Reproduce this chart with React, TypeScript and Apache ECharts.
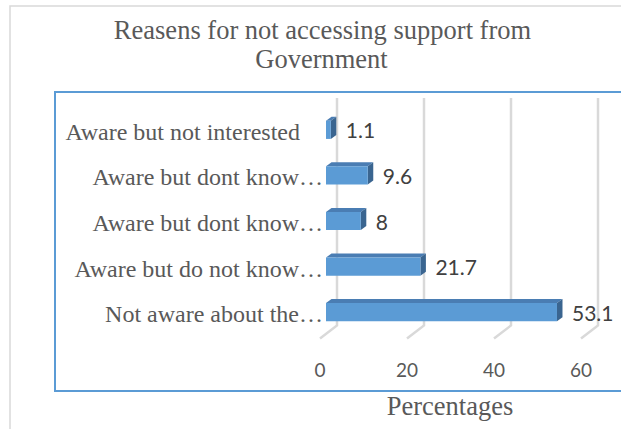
import React, { useEffect, useRef } from "react";
import * as echarts from "echarts";

const titleLines = ["Reasens for not accessing support from", "Government"];
const categories = [
  "Aware but not interested",
  "Aware but dont know…",
  "Aware but dont know…",
  "Aware but do not know…",
  "Not aware about the…",
];
const values = [1.1, 9.6, 8, 21.7, 53.1];
const xTicks = [0, 20, 40, 60];
const xAxisTitle = "Percentages";

const FRONT = "#5b9bd5";
const TOP = "#4a7db3";
const SIDE = "#3a6590";
const SERIF = "'Liberation Serif', 'Times New Roman', serif";
const SANS = "Lato, 'Open Sans', sans-serif";

export default function App() {
  const ref = useRef<HTMLDivElement>(null);
  useEffect(() => {
    if (!ref.current) return;
    document.body.style.margin = "0";
    const chart = echarts.init(ref.current, undefined, { renderer: "svg" });
    const option: any = {
      animation: false,
      backgroundColor: "#ffffff",
      tooltip: { show: false },
      grid: { left: 326, top: 107, width: 261, height: 228, containLabel: false },
      xAxis: {
        type: "value",
        min: 0,
        max: 60,
        interval: 20,
        axisLine: { show: false },
        axisTick: { show: false },
        splitLine: { show: false },
        axisLabel: {
          fontFamily: SANS,
          fontSize: 19,
          color: "#595959",
          margin: 25,
          padding: [0, 12, 0, 0],
        },
      },
      yAxis: {
        type: "category",
        inverse: true,
        data: categories,
        axisLine: { show: false },
        axisTick: { show: false },
        splitLine: { show: false },
        axisLabel: {
          margin: 3,
          formatter: (v: string, i: number) => (i === 0 ? `{p|${v}}` : `{n|${v}}`),
          rich: {
            p: { fontFamily: SERIF, fontSize: 24, color: "#595959", padding: [4, 23, 0, 0] },
            n: { fontFamily: SERIF, fontSize: 24, color: "#595959", padding: [4, 0, 0, 0] },
          },
        },
      },
      graphic: [
        {
          type: "rect",
          silent: true,
          z: -10,
          shape: { x: 10, y: 6, width: 700, height: 500 },
          style: { fill: "none", stroke: "#d9d9d9", lineWidth: 1.5 },
        },
        {
          type: "rect",
          silent: true,
          z: -10,
          shape: { x: 55, y: 92, width: 700, height: 299 },
          style: { fill: "none", stroke: "#5b9bd5", lineWidth: 2 },
        },
        {
          type: "text",
          x: 322.5,
          y: 30,
          style: {
            text: titleLines[0],
            fontFamily: SERIF,
            fontSize: 26.5,
            fill: "#595959",
            align: "center",
            verticalAlign: "middle",
          },
        },
        {
          type: "text",
          x: 321.5,
          y: 59,
          style: {
            text: titleLines[1],
            fontFamily: SERIF,
            fontSize: 26.5,
            fill: "#595959",
            align: "center",
            verticalAlign: "middle",
          },
        },
        {
          type: "text",
          x: 450,
          y: 406,
          style: {
            text: xAxisTitle,
            fontFamily: SERIF,
            fontSize: 26.5,
            fill: "#595959",
            align: "center",
            verticalAlign: "middle",
          },
        },
      ],
      series: [
        {
          type: "custom",
          name: "grid",
          z: 1,
          silent: true,
          data: xTicks.map((t) => [t, 0]),
          encode: { x: 0, y: 1 },
          renderItem: (params: any, api: any) => {
            const cs = params.coordSys;
            const p = api.coord([api.value(0), 0]);
            const bottom = cs.y + cs.height;
            return {
              type: "polyline",
              shape: {
                points: [
                  [p[0] + 11, cs.y - 9],
                  [p[0] + 11, bottom - 9.5],
                  [p[0] - 6, bottom + 3.5],
                ],
              },
              style: { fill: "none", stroke: "#d9d9d9", lineWidth: 2.5 },
            };
          },
        },
        {
          type: "custom",
          name: "Percentages",
          z: 2,
          data: values.map((v, i) => [v, i]),
          encode: { x: 0, y: 1 },
          renderItem: (params: any, api: any) => {
            const v = api.value(0);
            const idx = api.value(1);
            const s = api.coord([0, idx]);
            const e = api.coord([v, idx]);
            const h = api.size([0, 1])[1] * 0.4;
            const x0 = s[0];
            const x1 = e[0];
            const y0 = e[1] - h / 2;
            const y1 = e[1] + h / 2;
            const dx = 5.5;
            const dy = -4;
            return {
              type: "group",
              children: [
                {
                  type: "polygon",
                  shape: { points: [[x0, y0], [x0 + dx, y0 + dy], [x1 + dx, y0 + dy], [x1, y0]] },
                  style: { fill: TOP },
                },
                {
                  type: "polygon",
                  shape: { points: [[x1, y0], [x1 + dx, y0 + dy], [x1 + dx, y1 + dy], [x1, y1]] },
                  style: { fill: SIDE },
                },
                {
                  type: "rect",
                  shape: { x: x0, y: y0, width: x1 - x0, height: h },
                  style: { fill: FRONT },
                },
                {
                  type: "text",
                  x: x1 + 15,
                  y: e[1],
                  style: {
                    text: String(v),
                    fontFamily: SANS,
                    fontSize: 21,
                    fill: "#404040",
                    align: "left",
                    verticalAlign: "middle",
                  },
                },
              ],
            };
          },
        },
      ],
    };
    chart.setOption(option);
    return () => chart.dispose();
  }, []);
  return <div ref={ref} style={{ width: 621, height: 429, background: "#fff" }} />;
}
